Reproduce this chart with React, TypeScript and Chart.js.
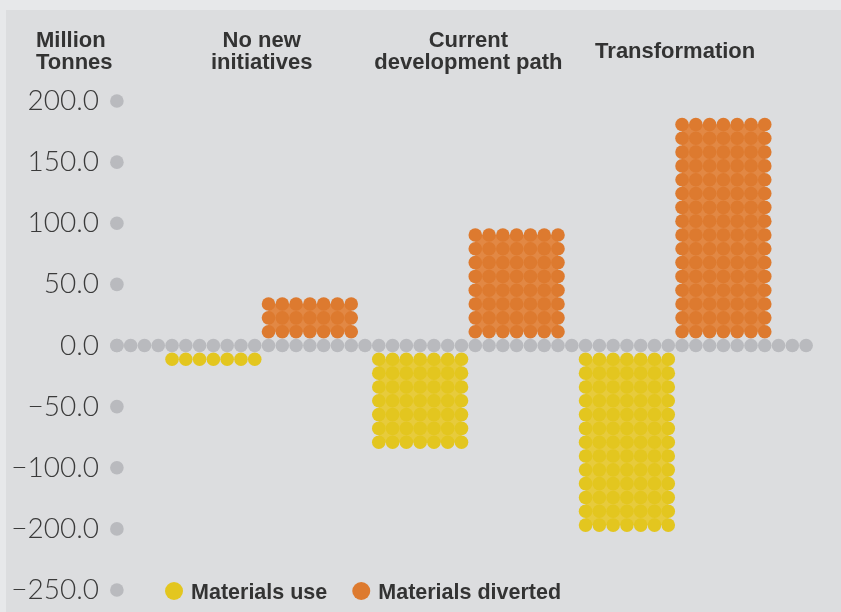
import React, { useEffect, useRef } from "react";
import { Chart, registerables } from "chart.js";

Chart.register(...registerables);

// ---- data ----
const SCENARIOS: string[][] = [["No new", "initiatives"], ["Current", "development path"], ["Transformation"]];
const MATERIALS_USE = [-11, -79, -147];
const MATERIALS_DIVERTED = [34, 90, 181];
const TICK_VALUES = [200, 150, 100, 50, 0, -50, -100, -150, -200];
const TICK_LABELS = ["200.0", "150.0", "100.0", "50.0", "0.0", "\u221250.0", "\u2212100.0", "\u2212200.0", "\u2212250.0"];
const AXIS_TITLE = ["Million", "Tonnes"];
const SERIES_NAMES = ["Materials use", "Materials diverted"];

// ---- dot-matrix encoding ----
const DOT_VALUE = 11.3; // million tonnes per dot
const BAR_COLS = 7;
const GROUP_STRIDE = 15;
const FIRST_COL = 4;
const TOTAL_COLS = 51;

const YELLOW = "#e3c61f";
const YELLOW_FILL = "#e7cb3c";
const ORANGE = "#dd7a2f";
const ORANGE_FILL = "#e28844";
const GREY = "#b9babe";
const TEXT = "#333333";

function dotsFor(values: number[], colOffset: number) {
  const pts: { x: number; y: number }[] = [];
  values.forEach((v, i) => {
    const rows = Math.round(Math.abs(v) / DOT_VALUE);
    const sign = Math.sign(v);
    const c0 = FIRST_COL + i * GROUP_STRIDE + colOffset;
    for (let r = 1; r <= rows; r++) {
      for (let c = 0; c < BAR_COLS; c++) pts.push({ x: c0 + c, y: sign * r * DOT_VALUE });
    }
  });
  return pts;
}

// light fill between dot centres (the small diamonds between dots)
const fillPlugin = {
  id: "dotFill",
  beforeDatasetsDraw(chart: any) {
    const ctx = chart.ctx as CanvasRenderingContext2D;
    const xs = chart.scales.x;
    const ys = chart.scales.y;
    ctx.save();
    const draw = (values: number[], colOffset: number, color: string) => {
      values.forEach((v, i) => {
        const rows = Math.round(Math.abs(v) / DOT_VALUE);
        if (rows < 2) return;
        const sign = Math.sign(v);
        const c0 = FIRST_COL + i * GROUP_STRIDE + colOffset;
        const x1 = xs.getPixelForValue(c0);
        const x2 = xs.getPixelForValue(c0 + BAR_COLS - 1);
        const y1 = ys.getPixelForValue(sign * DOT_VALUE);
        const y2 = ys.getPixelForValue(sign * rows * DOT_VALUE);
        ctx.fillStyle = color;
        ctx.fillRect(x1, Math.min(y1, y2), x2 - x1, Math.abs(y2 - y1));
      });
    };
    draw(MATERIALS_USE, 0, YELLOW_FILL);
    draw(MATERIALS_DIVERTED, BAR_COLS, ORANGE_FILL);
    ctx.restore();
  },
};

const textPlugin = {
  id: "texts",
  afterDraw(chart: any) {
    const ctx = chart.ctx as CanvasRenderingContext2D;
    const xs = chart.scales.x;
    ctx.save();
    ctx.fillStyle = TEXT;
    ctx.textBaseline = "alphabetic";
    ctx.font = 'bold 22px "Liberation Sans", Arial, sans-serif';
    const mid = 57.5;
    const lh = 22;
    const drawLines = (lines: string[], x: number, align: CanvasTextAlign) => {
      ctx.textAlign = align;
      const n = lines.length;
      lines.forEach((l, k) => ctx.fillText(l, x, mid + (k - (n - 1) / 2) * lh));
    };
    drawLines(AXIS_TITLE, 36, "left");
    SCENARIOS.forEach((s, i) => {
      const c = FIRST_COL + i * GROUP_STRIDE + BAR_COLS - 0.5;
      drawLines(s, xs.getPixelForValue(c), "center");
    });

    // legend
    const ds = chart.data.datasets.filter((d: any) => SERIES_NAMES.includes(d.label));
    ctx.font = 'bold 21.5px "Liberation Sans", Arial, sans-serif';
    ctx.textAlign = "left";
    let x = xs.getPixelForValue(FIRST_COL) + 2;
    const cy = chart.chartArea.bottom + 1;
    ds.forEach((d: any) => {
      ctx.fillStyle = d.backgroundColor;
      ctx.beginPath();
      ctx.arc(x, cy, 9, 0, Math.PI * 2);
      ctx.fill();
      ctx.fillStyle = TEXT;
      ctx.fillText(d.label, x + 17, cy + 8);
      x += 17 + ctx.measureText(d.label).width + 34;
    });
    ctx.restore();
  },
};

export default function App() {
  const ref = useRef<HTMLCanvasElement | null>(null);

  useEffect(() => {
    if (!ref.current) return;
    const zeroRow = Array.from({ length: TOTAL_COLS }, (_, c) => ({ x: c, y: 0 }));
    const tickDots = TICK_VALUES.map((v) => ({ x: 0, y: v }));
    const common = { pointRadius: 6.8, pointHoverRadius: 6.8, borderWidth: 0, pointBorderWidth: 0, showLine: false, clip: false as any };
    const chart = new Chart(ref.current, {
      type: "scatter",
      data: {
        datasets: [
          { label: "", data: zeroRow, backgroundColor: GREY, ...common },
          { label: "", data: tickDots, backgroundColor: GREY, ...common },
          { label: SERIES_NAMES[0], data: dotsFor(MATERIALS_USE, 0), backgroundColor: YELLOW, ...common },
          { label: SERIES_NAMES[1], data: dotsFor(MATERIALS_DIVERTED, BAR_COLS), backgroundColor: ORANGE, ...common },
        ],
      },
      options: {
        animation: false,
        responsive: false,
        maintainAspectRatio: false,
        layout: { padding: { top: 101, right: 28, bottom: 22, left: 0 } },
        plugins: { legend: { display: false }, tooltip: { enabled: false } },
        scales: {
          x: { type: "linear", min: -0.5, max: TOTAL_COLS - 0.5, display: false },
          y: {
            type: "linear",
            min: -200,
            max: 200,
            afterFit: (s: any) => {
              s.width = 110;
            },
            grid: { display: false, drawTicks: false },
            border: { display: false },
            ticks: {
              stepSize: 50,
              padding: 11,
              color: "#3a3a3a",
              font: { family: "Lato", size: 28, weight: "300" as any, lineHeight: 0.4 },
              callback: (v: any) => {
                const i = TICK_VALUES.indexOf(Number(v));
                return i >= 0 ? TICK_LABELS[i] : "";
              },
            },
          },
        },
      },
      plugins: [fillPlugin, textPlugin],
    });
    return () => chart.destroy();
  }, []);

  return (
    <div style={{ position: "absolute", left: 0, top: 0, width: 841, height: 612, background: "#e7e8ea", overflow: "hidden" }}>
      <div style={{ position: "absolute", left: 6, top: 10, right: 0, bottom: 0, background: "#dcdddf" }} />
      <canvas ref={ref} width={841} height={612} style={{ position: "absolute", left: 0, top: 0, width: 841, height: 612 }} />
    </div>
  );
}
